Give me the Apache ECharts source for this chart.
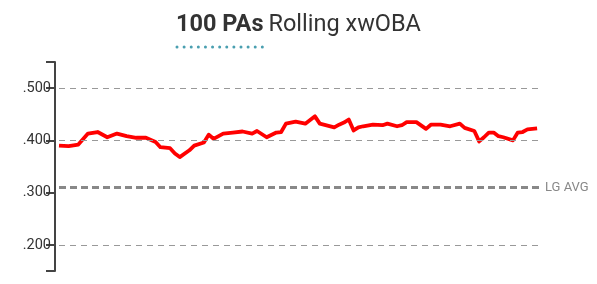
<!DOCTYPE html>
<html>
<head>
<meta charset="utf-8">
<script src="https://cdn.jsdelivr.net/npm/echarts@6/dist/echarts.min.js"></script>
<style>html,body{margin:0;padding:0;background:#fff}#c{width:597px;height:284px}</style>
</head>
<body>
<div id="c"></div>
<script>
// Game number (rolling window end) and rolling xwOBA value
const games = [1,3,5,7,9,11,13,15,17,19,21,22,24,25,26,28,29,31,32,33,35,37,39,41,42,44,46,47,48,50,52,54,55,58,59,60,61,62,63,64,66,68,69,71,72,73,75,77,78,80,82,84,85,87,88,89,90,91,92,93,95,96,97,98,100];
const xwoba = [.390,.389,.392,.413,.416,.406,.413,.408,.405,.405,.397,.387,.385,.375,.368,.381,.390,.396,.411,.403,.413,.415,.417,.413,.418,.406,.415,.416,.432,.436,.432,.446,.432,.425,.430,.434,.440,.419,.425,.427,.430,.429,.432,.427,.429,.435,.435,.422,.430,.430,.427,.432,.424,.418,.398,.406,.415,.415,.408,.406,.400,.415,.416,.421,.423];
const yTicks = [0.15, 0.2, 0.3, 0.4, 0.5, 0.55];
const yLabels = [0.2, 0.3, 0.4, 0.5];
const gridValues = [0.2, 0.4, 0.5];
const lgAvg = 0.311;

const chart = echarts.init(document.getElementById('c'), null, {renderer: 'canvas'});
const fmt = v => v.toFixed(3).replace(/^0/, '');
chart.setOption({
  animation: false,
  title: {
    text: '{b|100 PAs} {n|Rolling xwOBA}',
    left: 'center',
    top: 8,
    textStyle: {
      rich: {
        b: {fontFamily: 'Roboto', fontWeight: 'bold', fontSize: 23.5, color: '#333'},
        n: {fontFamily: 'Roboto', fontWeight: 'normal', fontSize: 23.5, color: '#333'}
      }
    }
  },
  graphic: [{
    type: 'line',
    shape: {x1: 177, y1: 47, x2: 263, y2: 47},
    style: {stroke: '#4a9fb0', lineWidth: 3, lineDash: [0.01, 7.1], lineCap: 'round'}
  }],
  grid: {left: 59, right: 57, top: 62, bottom: 13},
  xAxis: {
    type: 'value', min: 1, max: 100.6, show: false
  },
  yAxis: {
    type: 'value', min: 0.15, max: 0.55, offset: 4,
    axisLine: {show: true, lineStyle: {color: '#444', width: 2}},
    axisTick: {show: true, customValues: yTicks, length: 9, lineStyle: {color: '#444', width: 2}},
    axisLabel: {customValues: yLabels, formatter: fmt, fontFamily: 'Roboto', fontSize: 14.5, color: '#333', margin: 4},
    splitLine: {show: false}
  },
  visualMap: {
    show: false, type: 'continuous', seriesIndex: 1, dimension: 1,
    min: 0.365, max: 0.385, inRange: {color: ['#e65252', '#ff0000']}
  },
  series: [
    {
      type: 'line', data: [], z: 1, silent: true,
      markLine: {
        symbol: 'none', silent: true, animation: false,
        data: gridValues.map(v => ({yAxis: v, label: {show: false},
          lineStyle: {color: '#999', width: 1, type: [6, 5]}})).concat([
          {yAxis: lgAvg,
           lineStyle: {color: '#888', width: 3, type: [7, 4]},
           label: {show: true, position: 'end', formatter: 'LG AVG', color: '#888',
                   fontFamily: 'Roboto', fontSize: 13, distance: 5}}
        ])
      }
    },
    {
      type: 'line', z: 3,
      data: games.map((g, i) => [g, xwoba[i]]),
      showSymbol: false,
      lineStyle: {width: 3.8, color: '#ff0000', join: 'round'},
      itemStyle: {color: '#ff0000'}
    }
  ]
});
</script>
</body>
</html>
